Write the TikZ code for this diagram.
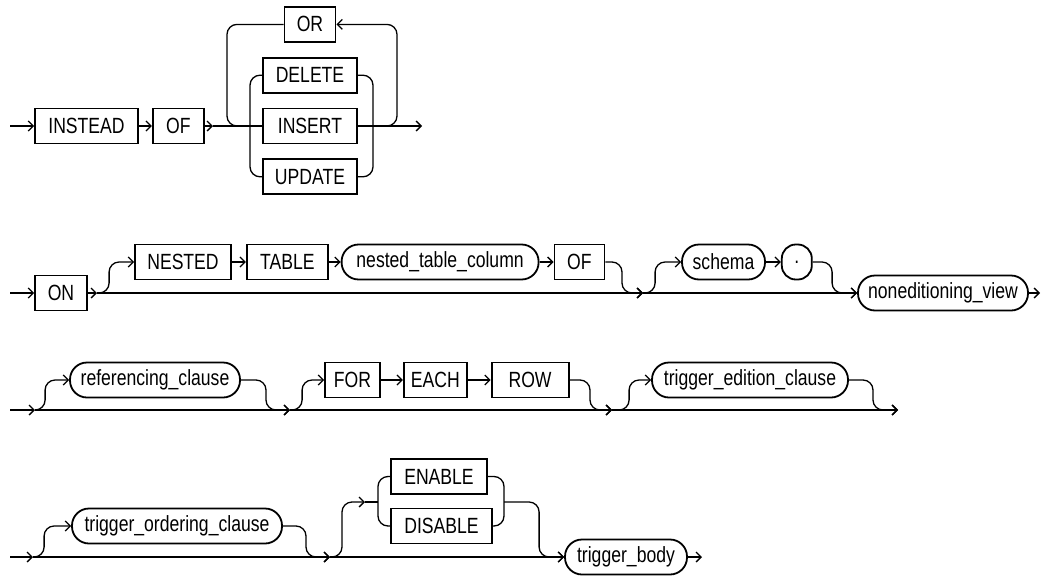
\documentclass[tikz,border=0pt]{standalone}
\usepackage{fontspec}
\newfontfamily\railfont{Liberation Sans}[FakeStretch=0.8]
\usepackage{tikz}
\usetikzlibrary{positioning, arrows.meta}

\begin{document}
\begin{tikzpicture}[
    x=1pt, y=-1pt,
    font=\railfont\fontsize{22}{24}\selectfont,
    kw/.style={draw, line width=1.8pt, minimum height=35pt, inner sep=0pt},
    nt/.style={kw, rounded corners=17pt},
    line/.style={line width=1.3pt, rounded corners=10pt},
    arr/.style={line, -{Straight Barb[length=5pt, width=10pt]}}
  ]
    \useasboundingbox (0,0) rectangle (1058,576);

    % row 1: INSTEAD OF ...
    \coordinate (r1s) at (10,126);
    \node[kw, minimum width=103pt] (instead) at (86.5,126) {INSTEAD};
    \node[kw, minimum width=51pt, right=13pt of instead] (of1) {OF};
    \node[kw, minimum width=94pt] (insert) at (310,126) {INSERT};
    \node[kw, minimum width=94pt, above=14pt of insert] (delete) {DELETE};
    \node[kw, minimum width=94pt, below=14pt of insert] (update) {UPDATE};
    \node[kw, minimum width=51pt, above=14pt of delete] (or1) {OR};
    \coordinate (a1) at (213,126);
    \coordinate (loopL) at (227,126);
    \coordinate (loopR) at (397,126);
    \coordinate (barL) at (250,126);
    \coordinate (barR) at (373,126);
    \coordinate (r1e) at (422,126);

    \draw[arr] (r1s) -- (instead);
    \draw[arr] (instead) -- (of1);
    \draw[arr] (of1) -- (a1);
    \draw[line] (a1) -- (insert);
    \draw[arr] (insert) -- (r1e);
    \draw[line] (or1.west) -| (loopL) -- (insert);
    \draw[arr] (insert.east) -- (loopR) |- (or1.east);
    \draw[line] (delete.west) -| (barL) |- (update.west);
    \draw[line] (delete.east) -| (barR) |- (update.east);

    % row 2: ON ...
    \coordinate (r2s) at (10,293);
    \node[kw, minimum width=52pt] (on) at (61,293) {ON};
    \coordinate (a2) at (97,293);
    \node[kw, minimum width=96pt] (nested) at (183,262) {NESTED};
    \node[kw, minimum width=81pt, right=14pt of nested] (table) {TABLE};
    \node[nt, minimum width=197pt, right=12pt of table] (ntcol) {nested\_table\_column};
    \node[kw, minimum width=50pt, right=14pt of ntcol] (of2) {OF};
    \coordinate (b2) at (643,293);
    \node[nt, minimum width=83pt] (schema) at (723.5,262) {schema};
    \node[nt, minimum width=30pt, rounded corners=14pt, right=15pt of schema] (dot) {.};
    \node[nt, minimum width=170pt] (nonedview) at (943,293) {noneditioning\_view};
    \coordinate (r2e) at (1040,293);

    \draw[arr] (r2s) -- (on);
    \draw[arr] (on) -- (a2);
    \draw[arr] (a2) -- (b2);
    \draw[arr] (b2) -- (nonedview);
    \draw[arr] (nonedview) -- (r2e);
    \draw[arr] (a2) -| ([xshift=-25pt]nested.west) -- (nested);
    \draw[arr] (nested) -- (table);
    \draw[arr] (table) -- (ntcol);
    \draw[arr] (ntcol) -- (of2);
    \draw[arr] (of2) -| ([xshift=-21pt]b2) -- (b2);
    \draw[arr] (b2) -| ([xshift=-26pt]schema.west) -- (schema);
    \draw[arr] (schema) -- (dot);
    \draw[arr] (dot) -| ([xshift=-25pt]nonedview.west) -- (nonedview);

    % row 3: referencing, FOR EACH ROW, edition
    \coordinate (r3s) at (10,410);
    \coordinate (a3) at (35,410);
    \node[nt, minimum width=170pt] (refcl) at (155,380) {referencing\_clause};
    \coordinate (b3) at (290,410);
    \node[kw, minimum width=55pt] (for) at (352.5,380) {FOR};
    \node[kw, minimum width=63pt, right=22pt of for] (each) {EACH};
    \node[kw, minimum width=77pt, right=23pt of each] (row) {ROW};
    \coordinate (c3) at (612,410);
    \node[nt, minimum width=196pt] (trigedcl) at (750,380) {trigger\_edition\_clause};
    \coordinate (r3e) at (898,410);

    \draw[arr] (r3s) -- (a3);
    \draw[arr] (a3) -- (b3);
    \draw[arr] (b3) -- (c3);
    \draw[arr] (c3) -- (r3e);
    \draw[arr] (a3) -| ([xshift=-24pt]refcl.west) -- (refcl);
    \draw[arr] (refcl) -| ([xshift=-24pt]b3) -- (b3);
    \draw[arr] (b3) -| ([xshift=-22pt]for.west) -- (for);
    \draw[arr] (for) -- (each);
    \draw[arr] (each) -- (row);
    \draw[arr] (row) -| ([xshift=-22pt]c3) -- (c3);
    \draw[arr] (c3) -| ([xshift=-22pt]trigedcl.west) -- (trigedcl);
    \draw[arr] (trigedcl) -| ([xshift=-25pt]r3e) -- (r3e);

    % row 4: ordering, ENABLE/DISABLE, body
    \coordinate (r4s) at (10,557);
    \coordinate (a4) at (33,557);
    \node[nt, minimum width=210pt] (trigordcl) at (177,526) {trigger\_ordering\_clause};
    \coordinate (b4) at (330,557);
    \coordinate (m4) at (365,502);
    \node[kw, minimum width=96pt] (enable) at (439,476.5) {ENABLE};
    \node[kw, minimum width=101pt] (disable) at (441.5,526) {DISABLE};
    \coordinate (barL4) at (378,502);
    \coordinate (barR4) at (504,502);
    \node[nt, minimum width=122pt] (trigbody) at (626,557) {trigger\_body};
    \coordinate (r4e) at (702,557);

    \draw[arr] (r4s) -- (a4);
    \draw[arr] (a4) -- (b4);
    \draw[arr] (b4) -- (trigbody);
    \draw[arr] (trigbody) -- (r4e);
    \draw[arr] (a4) -| ([xshift=-27pt]trigordcl.west) -- (trigordcl);
    \draw[arr] (trigordcl) -| ([xshift=-24pt]b4) -- (b4);
    \draw[arr] (b4) -| ([xshift=-23pt]m4) -- (m4);
    \draw[line] (m4) -- (barL4);
    \draw[line] (enable.west) -| (barL4) |- (disable.west);
    \draw[line] (enable.east) -| (barR4) |- (disable.east);
    \draw[arr] (barR4) -| ([xshift=-25pt]trigbody.west) -- (trigbody);
  \end{tikzpicture}
\end{document}
